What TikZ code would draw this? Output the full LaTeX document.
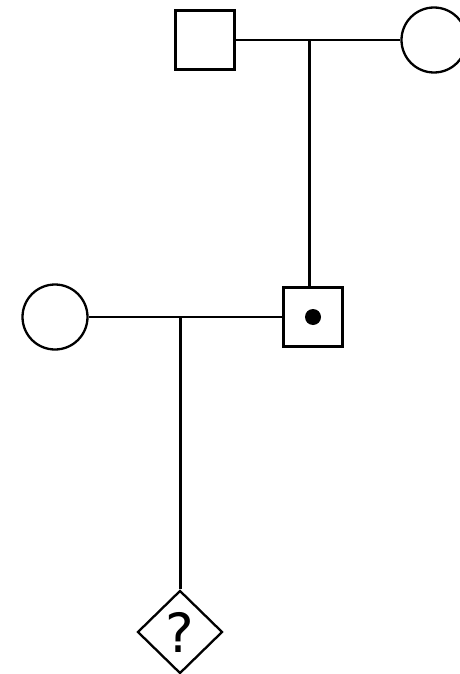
\documentclass[tikz,border=0pt]{standalone}
\usepackage{fontspec}
\setmainfont{DejaVu Sans}
\usetikzlibrary{shapes.geometric}

\begin{document}
\begin{tikzpicture}[
  x=1pt, y=-1pt,
  male/.style={draw, rectangle, line width=2.3pt, fill=white,
               minimum size=59pt, inner sep=0pt},
  female/.style={draw, circle, line width=2.3pt, fill=white,
                 minimum size=65pt, inner sep=0pt},
  unknown/.style={draw, diamond, line width=2.3pt, fill=white,
                  minimum width=85pt, minimum height=83pt, inner sep=0pt,
                  font=\fontsize{54}{56}\selectfont},
  dotmark/.style={circle, fill=black, minimum size=16pt, inner sep=0pt},
  mate/.style={line width=2.3pt},
  descent/.style={line width=3pt}
]
  \useasboundingbox (0,0) rectangle (459,674);

  %% Generation I  (y = 40)
  \node[male]   (grandpa) at (205, 40) {};
  \node[female] (grandma) at (434, 40) {};

  %% Generation II  (y = 317)
  \node[female] (partner) at (55, 317) {};
  \node[male]   (carrier) at (313,317) {};
  \node[dotmark] (dot) at (carrier.center) {};

  %% Generation III  (y = 632)
  \node[unknown] (child) at (180,632) {?};

  %% Mating lines
  \draw[mate] (grandpa.east) -- (grandma.west);
  \draw[mate] (partner.east) -- (carrier.west);

  %% Descent lines
  \coordinate (couple1) at (309, 40);
  \coordinate (couple2) at (180,317);
  \draw[descent] (couple1) -- (couple1 |- carrier.north);
  \draw[descent] (couple2) -- (child.north);
\end{tikzpicture}
\end{document}
